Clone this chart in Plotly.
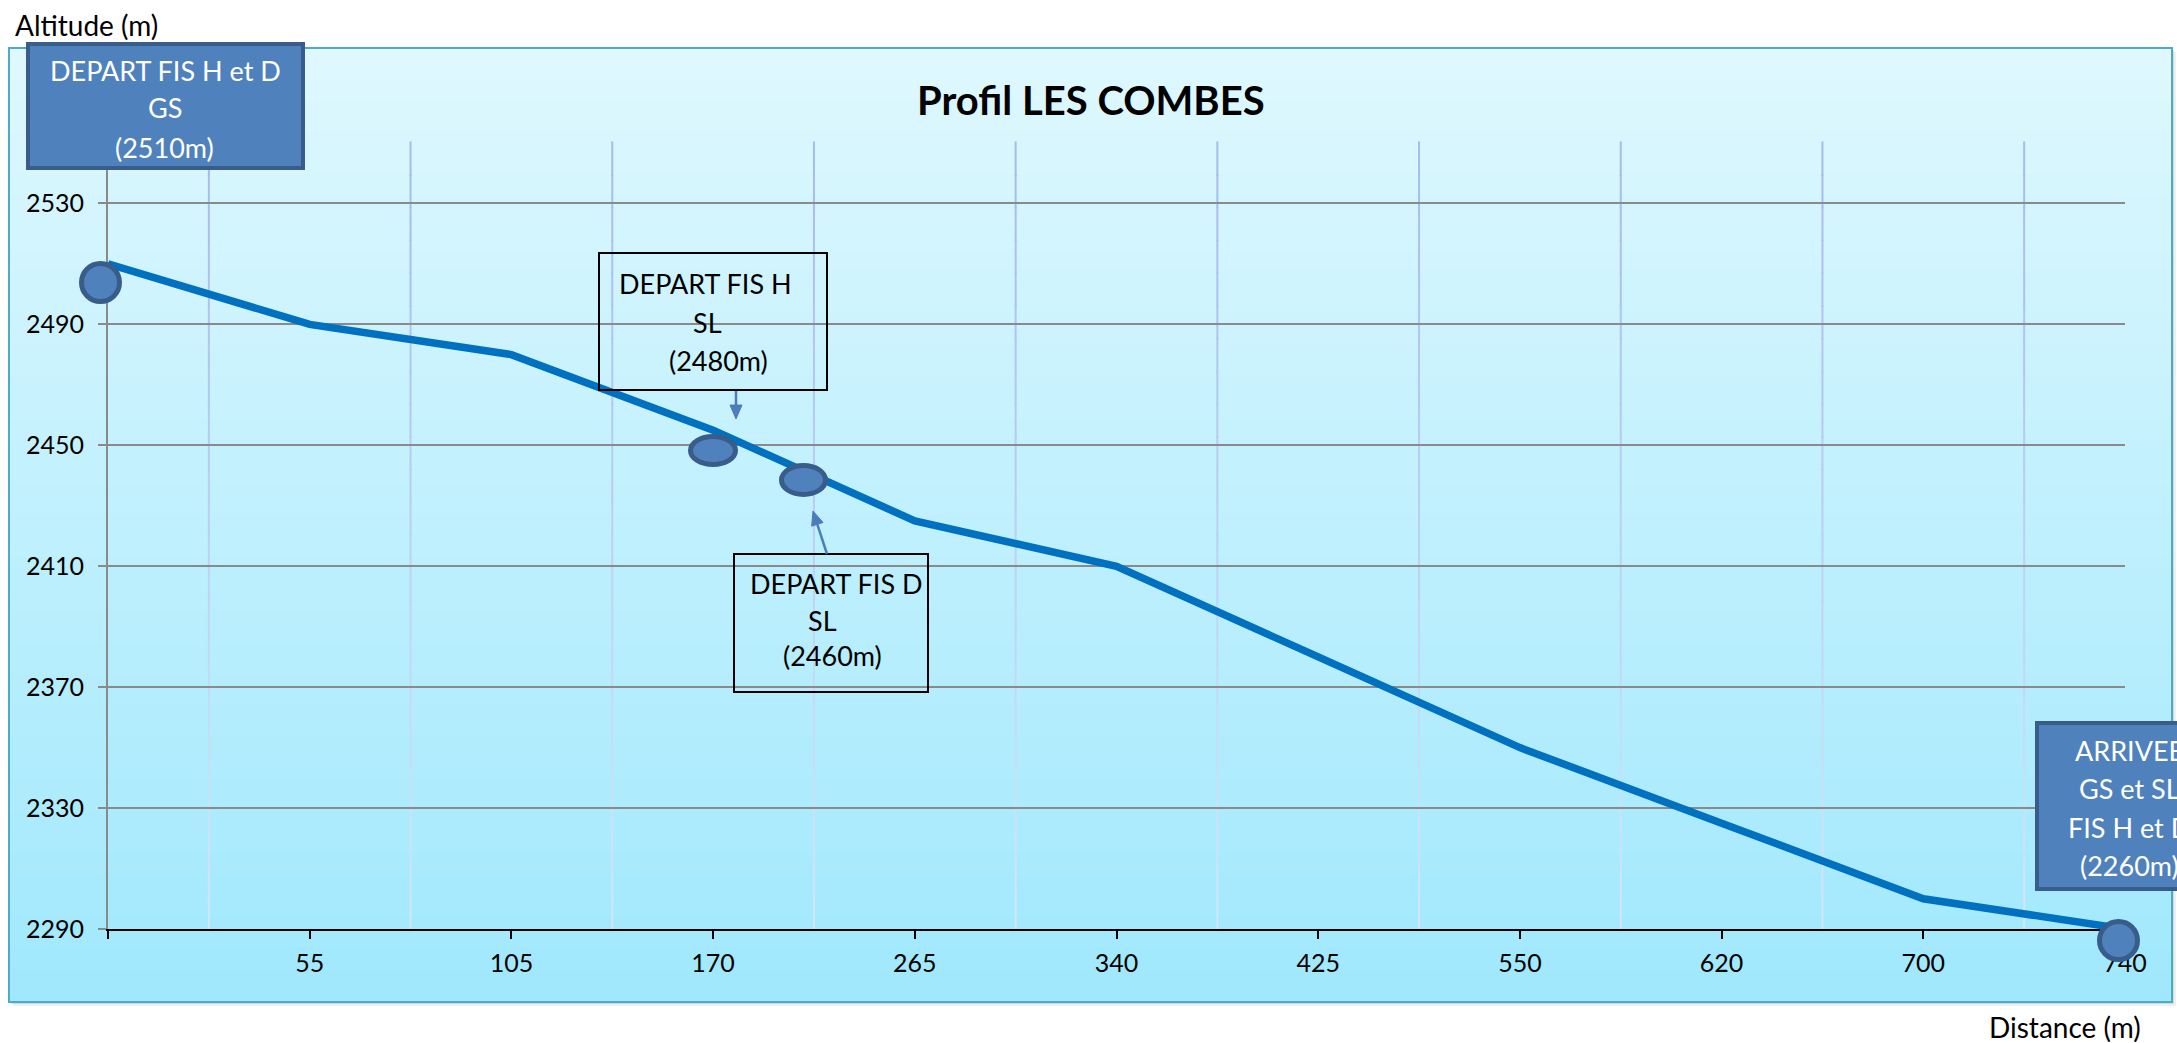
import plotly.graph_objects as go

# ---------------- data ----------------
distance_labels = ["", "55", "105", "170", "265", "340", "425", "550", "620", "700", "740"]
altitude = [2510, 2490, 2480, 2455, 2425, 2410, 2380, 2350, 2325, 2300, 2290]
y_ticks = [2290, 2330, 2370, 2410, 2450, 2490, 2530]
y_range = [2290, 2550]

title_text = "Profil LES COMBES"
y_title = "Altitude (m)"
x_title = "Distance (m)"

# ---------------- layout geometry (pixels) ----------------
FW, FH = 2177, 1043
L, R, T, B = 108, 2125, 143, 929
PW, PH = R - L, B - T


def X(px):
    return (px - L) / PW


def Y(py):
    return (B - py) / PH


def lerp(c0, c1, f):
    return "rgb(%d,%d,%d)" % tuple(round(c0[k] + (c1[k] - c0[k]) * f) for k in range(3))


FONT = "Lato, 'Open Sans', sans-serif"
x_idx = list(range(len(distance_labels)))

fig = go.Figure()
fig.add_trace(go.Scatter(
    x=x_idx, y=altitude, mode="lines",
    line=dict(color="#0070C0", width=7.5),
    cliponaxis=False, hoverinfo="x+y", showlegend=False,
))

shapes = []

# chart area shadow
for off, op in [(4, 0.06), (2, 0.10)]:
    shapes.append(dict(type="rect", xref="paper", yref="paper", layer="below",
                       x0=X(9 + off), x1=X(2172 + off), y0=Y(1002 + off), y1=Y(48 + off),
                       fillcolor=f"rgba(0,0,0,{op})", line=dict(width=0)))

# gradient background of chart area
top_c = (223, 248, 254)
bot_c = (160, 232, 253)
n = 90
y_top, y_bot = 48, 1002
for i in range(n):
    t0 = y_top + (y_bot - y_top) * i / n
    t1 = y_top + (y_bot - y_top) * (i + 1) / n
    shapes.append(dict(type="rect", xref="paper", yref="paper", layer="below",
                       x0=X(9), x1=X(2172), y0=Y(t1 + 0.6), y1=Y(t0),
                       fillcolor=lerp(top_c, bot_c, (i + 0.5) / n), line=dict(width=0)))

# vertical gridlines between categories (gradient colour, as in the reference)
g_top = (166, 186, 236)
g_bot = (212, 230, 247)
ns = 24
for i in x_idx[:-1]:
    xv = (i + 0.5) / (len(distance_labels) - 1)
    for k in range(ns):
        y0 = k / ns
        y1 = (k + 1) / ns
        shapes.append(dict(type="line", xref="paper", yref="paper", layer="below",
                           x0=xv, x1=xv, y0=y0, y1=y1 + 0.002,
                           line=dict(color=lerp(g_bot, g_top, (k + 0.5) / ns), width=2)))

# chart area border
shapes.append(dict(type="rect", xref="paper", yref="paper", layer="below",
                   x0=X(9), x1=X(2172), y0=Y(1002), y1=Y(48),
                   fillcolor="rgba(0,0,0,0)", line=dict(color="#4BACC6", width=2)))

BOX_FILL, BOX_LINE = "#4F81BD", "#385D8A"

# blue boxes
shapes.append(dict(type="rect", xref="paper", yref="paper",
                   x0=X(28), x1=X(303), y0=Y(168), y1=Y(44),
                   fillcolor=BOX_FILL, line=dict(color=BOX_LINE, width=4)))
shapes.append(dict(type="rect", xref="paper", yref="paper",
                   x0=X(2037), x1=X(2221), y0=Y(889), y1=Y(723),
                   fillcolor=BOX_FILL, line=dict(color=BOX_LINE, width=4)))
# outlined boxes
shapes.append(dict(type="rect", xref="paper", yref="paper",
                   x0=X(599), x1=X(827), y0=Y(390), y1=Y(253),
                   fillcolor="rgba(0,0,0,0)", line=dict(color="#000000", width=2)))
shapes.append(dict(type="rect", xref="paper", yref="paper",
                   x0=X(734), x1=X(928), y0=Y(692), y1=Y(554),
                   fillcolor="rgba(0,0,0,0)", line=dict(color="#000000", width=2)))

# arrows
ARROW = "#4A7EBB"


def arrow(tx, ty, hx, hy, head=14, half=6):
    dx, dy = hx - tx, hy - ty
    ln = (dx * dx + dy * dy) ** 0.5
    ux, uy = dx / ln, dy / ln
    bx, by = hx - ux * head, hy - uy * head
    px, py = -uy * half, ux * half
    shapes.append(dict(type="line", xref="paper", yref="paper",
                       x0=X(tx), y0=Y(ty), x1=X(bx), y1=Y(by),
                       line=dict(color=ARROW, width=2.5)))
    path = (f"M {X(hx)},{Y(hy)} L {X(bx + px)},{Y(by + py)} "
            f"L {X(bx - px)},{Y(by - py)} Z")
    shapes.append(dict(type="path", xref="paper", yref="paper", path=path,
                       fillcolor=ARROW, line=dict(color=ARROW, width=1)))


arrow(736, 391, 736, 419)
arrow(827, 554, 813, 511)

# ellipse markers


def ellipse(x0, y0, x1, y1, w=5):
    shapes.append(dict(type="circle", xref="paper", yref="paper",
                       x0=X(x0 + w / 2), x1=X(x1 - w / 2), y0=Y(y1 - w / 2), y1=Y(y0 + w / 2),
                       fillcolor=BOX_FILL, line=dict(color=BOX_LINE, width=w)))


ellipse(79, 261, 122, 304)
ellipse(688, 434, 738, 467)
ellipse(779, 463, 828, 497)
ellipse(2097, 919, 2140, 962)

annotations = []


def txt(s, cx, cy, size=27, color="#000000", anchor="center", bold=False):
    annotations.append(dict(xref="paper", yref="paper", x=X(cx), y=Y(cy),
                            text=f"<b>{s}</b>" if bold else s,
                            showarrow=False, xanchor=anchor, yanchor="middle",
                            font=dict(family=FONT, size=size, color=color)))


txt(title_text, 1091, 100, size=40, bold=True)
txt(y_title, 13, 25, size=28, anchor="left")
txt(x_title, 2143, 1027, size=28, anchor="right")

# box 1
txt("DEPART FIS H et D", 165, 70, color="#FFFFFF")
txt("GS", 165, 108, color="#FFFFFF")
txt("(2510m)", 164, 147, color="#FFFFFF")
# box 2
txt("DEPART FIS H", 705, 283)
txt("SL", 707, 322)
txt("(2480m)", 718, 360)
# box 3
txt("DEPART FIS D", 836, 583)
txt("SL", 822, 620)
txt("(2460m)", 832, 655)
# box 4 (partly outside the picture, as in the reference)
for s, cy in [("ARRIVEE", 750), ("GS et SL", 788), ("FIS H et D", 827), ("(2260m)", 865)]:
    txt(s, 2129, cy, color="#FFFFFF")

fig.update_layout(
    width=FW, height=FH, autosize=False,
    margin=dict(l=L, r=FW - R, t=T, b=FH - B, pad=0),
    paper_bgcolor="#FFFFFF", plot_bgcolor="rgba(0,0,0,0)",
    showlegend=False, shapes=shapes, annotations=annotations,
    font=dict(family=FONT, size=24, color="#000000"),
)
fig.update_xaxes(
    range=[0, len(distance_labels) - 1], tickmode="array",
    tickvals=x_idx, ticktext=distance_labels,
    showgrid=False, zeroline=False,
    showline=True, linecolor="#000000", linewidth=2,
    ticks="outside", ticklen=8, tickwidth=2, tickcolor="#000000",
    ticklabelstandoff=3,
    tickfont=dict(family=FONT, size=25, color="#000000"),
)
fig.update_yaxes(
    range=y_range, tickmode="array", tickvals=y_ticks,
    showgrid=True, gridcolor="#8A8A8A", gridwidth=2, zeroline=False,
    showline=True, linecolor="#8A8A8A", linewidth=2,
    ticks="outside", ticklen=8, tickwidth=2, tickcolor="#8A8A8A",
    ticklabelstandoff=9,
    tickfont=dict(family=FONT, size=25, color="#000000"),
)

fig.write_html(
    "out.html",
    config={"displayModeBar": False},
    post_script="document.body.style.margin='0';document.body.style.overflow='hidden';",
)
